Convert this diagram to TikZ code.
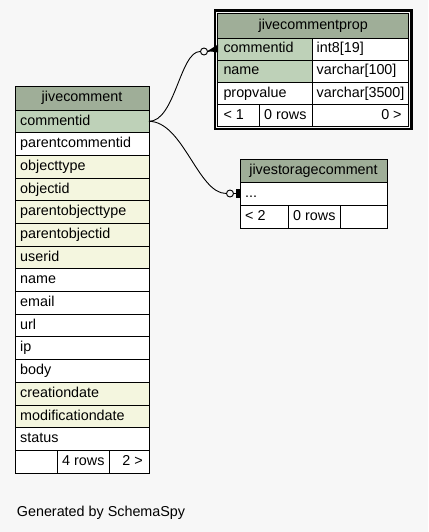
\documentclass[tikz,border=0pt]{standalone}
\usepackage{fontspec}
\setmainfont{Liberation Sans}
\definecolor{hdr}{HTML}{9FAE98}
\definecolor{pk}{HTML}{BED1B8}
\definecolor{idx}{HTML}{F4F6DF}
\definecolor{bg}{HTML}{F7F7F7}
\tikzset{
  cell/.style={draw=black, line width=0.9bp, anchor=north west, inner sep=0pt, outer sep=0pt},
  txt/.style={anchor=base west, inner sep=0pt, font=\fontsize{14.4}{16}\selectfont},
  ctxt/.style={anchor=base, inner sep=0pt, font=\fontsize{14.4}{16}\selectfont},
  rtxt/.style={anchor=base east, inner sep=0pt, font=\fontsize{14.4}{16}\selectfont},
  zero/.style={circle, draw=black, fill=bg, line width=0.9bp, minimum size=7bp, inner sep=0pt},
  conn/.style={draw=black, line width=0.9bp},
}
\begin{document}
\begin{tikzpicture}[x=1bp, y=-1bp]
\fill[bg] (0,0) rectangle (428,532);
\useasboundingbox (0,0) rectangle (428,532);

% ---------------- jivecomment ----------------
\node[cell, fill=hdr, minimum width=134bp, minimum height=24bp] (jch) at (15,86) {};
\node[ctxt] (jcht) at ([yshift=-3.7bp]jch.center) {jivecomment};
\foreach \n/\f [count=\i] in {commentid/pk, parentcommentid/white, objecttype/idx, objectid/idx,
  parentobjecttype/idx, parentobjectid/idx, userid/idx, name/white, email/white, url/white,
  ip/white, body/white, creationdate/idx, modificationdate/idx, status/white}{
  \pgfmathsetmacro\yt{110+(\i-1)*22.69}
  \node[cell, fill=\f, minimum width=134bp, minimum height=22.69bp] (jc-\i) at (15,\yt) {};
  \node[txt] (jct-\i) at ([xshift=5bp,yshift=-3.7bp]jc-\i.west) {\n};
}
\node[cell, fill=white, minimum width=42bp, minimum height=22.69bp] (jcf1) at (15,450.35) {};
\node[cell, fill=white, minimum width=52bp, minimum height=22.69bp] (jcf2) at (57,450.35) {};
\node[cell, fill=white, minimum width=40bp, minimum height=22.69bp] (jcf3) at (109,450.35) {};
\node[txt] (jcf2t) at ([xshift=5bp,yshift=-3.7bp]jcf2.west) {4 rows};
\node[rtxt] (jcf3t) at ([xshift=-6bp,yshift=-3.7bp]jcf3.east) {2 >};

% ---------------- jivecommentprop ----------------
\draw[black, line width=2.3bp] (215,10.5) rectangle (411.6,129);
\node[cell, fill=hdr, minimum width=191bp, minimum height=24.8bp] (cph) at (217.8,13.2) {};
\node[ctxt] (cpht) at ([yshift=-3.7bp]cph.center) {jivecommentprop};
\foreach \n/\t/\f [count=\i] in {commentid/int8[19]/pk, name/varchar[100]/pk, propvalue/varchar[3500]/white}{
  \pgfmathsetmacro\yt{38+(\i-1)*22.13}
  \node[cell, fill=\f, minimum width=94.2bp, minimum height=22.13bp] (cp-\i) at (217.8,\yt) {};
  \node[cell, fill=white, minimum width=96.8bp, minimum height=22.13bp] (cpt-\i) at (312,\yt) {};
  \node[txt] (cpn-\i) at ([xshift=5.5bp,yshift=-3.7bp]cp-\i.west) {\n};
  \node[txt] (cpy-\i) at ([xshift=4.5bp,yshift=-3.7bp]cpt-\i.west) {\t};
}
\node[cell, fill=white, minimum width=41.2bp, minimum height=22.4bp] (cpf1) at (217.8,104.4) {};
\node[cell, fill=white, minimum width=53bp, minimum height=22.4bp] (cpf2) at (259,104.4) {};
\node[cell, fill=white, minimum width=96.8bp, minimum height=22.4bp] (cpf3) at (312,104.4) {};
\node[txt] (cpf1t) at ([xshift=5.5bp,yshift=-3.7bp]cpf1.west) {< 1};
\node[txt] (cpf2t) at ([xshift=5bp,yshift=-3.7bp]cpf2.west) {0 rows};
\node[rtxt] (cpf3t) at ([xshift=-7bp,yshift=-3.7bp]cpf3.east) {0 >};

% ---------------- jivestoragecomment ----------------
\node[cell, fill=hdr, minimum width=147bp, minimum height=23bp] (sch) at (240,159) {};
\node[ctxt] (scht) at ([yshift=-3.7bp]sch.center) {jivestoragecomment};
\node[cell, fill=white, minimum width=147bp, minimum height=23bp] (sc-1) at (240,182) {};
\node[txt] (sct-1) at ([xshift=5bp,yshift=-3.7bp]sc-1.west) {...};
\node[cell, fill=white, minimum width=48bp, minimum height=23bp] (scf1) at (240,205) {};
\node[cell, fill=white, minimum width=52bp, minimum height=23bp] (scf2) at (288,205) {};
\node[cell, fill=white, minimum width=47bp, minimum height=23bp] (scf3) at (340,205) {};
\node[txt] (scf1t) at ([xshift=5bp,yshift=-3.7bp]scf1.west) {< 2};
\node[txt] (scf2t) at ([xshift=5bp,yshift=-3.7bp]scf2.west) {0 rows};

% ---------------- connectors ----------------
\node[zero] (o1) at (204,51.5) {};
\node[zero] (o2) at (230,193.5) {};
\draw[conn] (jc-1.east) .. controls +(26,0) and +(-20,0) .. (o1.west);
\draw[conn] (jc-1.east) .. controls +(34,0) and +(-28,0) .. (o2.west);
\draw[conn] (o1.east) -- (cp-1.west);
\fill[black] (207.5,51) -- (218,44.5) -- (218,52.5) -- cycle;
\draw[conn] (o2.east) -- (sc-1.west);
\fill[black] (235.5,189) rectangle (239.6,197.8);

% ---------------- footer text ----------------
\node[txt] (gen) at (16.7,516.7) {Generated by SchemaSpy};
\end{tikzpicture}
\end{document}
